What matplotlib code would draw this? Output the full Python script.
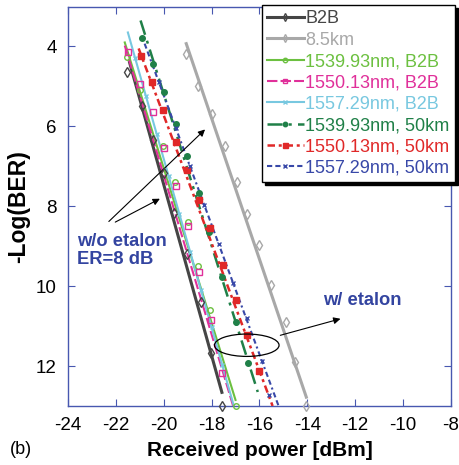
import matplotlib
matplotlib.use("Agg")
import matplotlib.pyplot as plt
from matplotlib.lines import Line2D
from matplotlib.patches import Ellipse

plt.rcParams['font.family'] = ['Liberation Sans', 'DejaVu Sans']
plt.rcParams['axes.unicode_minus'] = False

# measured points (received power [dBm], -log BER) and straight-line fits
b2b_x = [-21.54, -20.92, -20.47, -19.97, -19.56, -19.02, -18.44, -18.02, -17.57]
b2b_y = [4.64, 5.48, 6.35, 7.18, 8.18, 9.20, 10.40, 11.68, 13.0]
b2b_fit_x = [-21.43, -17.57]
b2b_fit_y = [4.40, 12.66]

km85_x = [-19.06, -18.56, -17.98, -17.44, -16.95, -16.50, -16.03, -15.50, -14.90, -14.50, -14.04]
km85_y = [4.20, 4.98, 5.70, 6.50, 7.40, 8.20, 8.97, 9.98, 10.90, 11.90, 13.0]
km85_fit_x = [-19.06, -14.04]
km85_fit_y = [3.93, 12.78]

g_b2b_x = [-21.55, -21.00, -20.05, -19.52, -18.98, -18.55, -18.05, -17.00]
g_b2b_y = [4.27, 5.10, 6.50, 7.40, 8.40, 9.50, 10.60, 13.0]
g_b2b_fit_x = [-21.63, -17.00]
g_b2b_fit_y = [3.90, 12.85]

m_b2b_x = [-21.50, -21.00, -20.47, -19.97, -19.48, -18.98, -18.52, -18.02, -17.57]
m_b2b_y = [4.15, 4.95, 5.65, 6.55, 7.50, 8.50, 9.65, 10.85, 12.18]
m_b2b_fit_x = [-21.63, -17.10]
m_b2b_fit_y = [3.98, 13.0]

c_b2b_x = [-21.20, -20.75, -20.30, -19.80, -19.35, -18.90, -18.45, -18.00, -17.55]
c_b2b_y = [4.28, 5.23, 6.18, 7.24, 8.19, 9.14, 10.09, 11.03, 11.98]
c_b2b_fit_x = [-21.50, -17.07]
c_b2b_fit_y = [3.65, 13.0]

g_50_x = [-20.93, -20.47, -19.97, -19.48, -19.02, -18.52, -18.10, -17.57, -16.99, -16.49]
g_50_y = [3.80, 4.43, 5.15, 5.93, 6.75, 7.68, 8.65, 9.78, 10.90, 11.93]
g_50_fit_x = [-20.97, -16.07]
g_50_fit_y = [3.35, 12.65]

r_50_x = [-20.97, -20.51, -20.05, -19.48, -19.02, -18.52, -18.07, -17.53, -16.99, -16.53, -16.03]
r_50_y = [4.25, 4.90, 5.60, 6.40, 7.10, 7.85, 8.55, 9.48, 10.35, 11.23, 12.13]
r_50_fit_x = [-21.05, -15.45]
r_50_fit_y = [4.05, 13.0]

b_50_x = [-20.20, -19.50, -18.90, -18.30, -17.70, -17.10, -16.53, -15.90, -15.62]
b_50_y = [4.90, 6.04, 7.00, 7.98, 8.95, 9.92, 10.80, 11.87, 12.72]
b_50_fit_x = [-20.80, -15.20]
b_50_fit_y = [3.93, 13.0]

labels = ['B2B', '8.5km', '1539.93nm, B2B', '1550.13nm, B2B', '1557.29nm, B2B',
          '1539.93nm, 50km', '1550.13nm, 50km', '1557.29nm, 50km']

series = [
    # points, fit, color, linestyle, lw, marker, filled, marker size
    (b2b_x, b2b_y, b2b_fit_x, b2b_fit_y, '#454545', '-', 2.2, 'd', False, 5),
    (km85_x, km85_y, km85_fit_x, km85_fit_y, '#a8a8a8', '-', 2.2, 'd', False, 5),
    (g_b2b_x, g_b2b_y, g_b2b_fit_x, g_b2b_fit_y, '#6cc040', '-', 1.5, 'o', False, 4),
    (m_b2b_x, m_b2b_y, m_b2b_fit_x, m_b2b_fit_y, '#e0309a', (0, (5, 1.5)), 1.5, 's', False, 4),
    (c_b2b_x, c_b2b_y, c_b2b_fit_x, c_b2b_fit_y, '#78c8e0', '-', 1.5, 'x', False, 3),
    (g_50_x, g_50_y, g_50_fit_x, g_50_fit_y, '#208048', (0, (6, 2.5, 1.2, 2.5)), 1.8, 'o', True, 4),
    (r_50_x, r_50_y, r_50_fit_x, r_50_fit_y, '#e02828', (0, (3, 1.5, 1.2, 1.5)), 1.8, 's', True, 4.5),
    (b_50_x, b_50_y, b_50_fit_x, b_50_fit_y, '#3848a8', (0, (2.5, 1.5, 2.5, 1.5, 1, 1.5)), 1.5, 'x', False, 3.5),
]

fig = plt.figure(figsize=(4.6, 4.65), dpi=100)
ax = fig.add_axes([0.148, 0.127, 0.832, 0.859])

handles = []
for (px, py, fx, fy, col, ls, lw, mk, filled, ms) in series:
    ax.plot(fx, fy, color=col, ls=ls, lw=lw, zorder=3)
    mfc = col if filled else 'none'
    ax.plot(px, py, ls='none', marker=mk, ms=ms, mfc=mfc, mec=col,
            mew=1.0, zorder=4, clip_on=False)
    handles.append(Line2D([], [], color=col, ls=ls, lw=lw, marker=mk,
                          ms=ms * 0.8, mfc=mfc, mec=col, mew=1.0))

ax.set_xlim(-24, -8)
ax.set_ylim(13, 3)
ax.set_xticks([-24, -22, -20, -18, -16, -14, -12, -10, -8])
ax.set_yticks([4, 6, 8, 10, 12])

spine_col = '#4858b0'
for s in ax.spines.values():
    s.set_color(spine_col)
    s.set_linewidth(1.0)
ax.tick_params(direction='in', top=True, right=True, length=5, color=spine_col,
               labelsize=13.5, pad=8)

ax.set_xlabel('Received power [dBm]', fontsize=15, fontweight='bold', labelpad=5)
ax.set_ylabel('-Log(BER)', fontsize=16.5, fontweight='bold', labelpad=4)
fig.text(0.022, 0.034, '(b)', fontsize=13, va='center')

# annotations
txt_col = '#3344a0'
ax.text(-23.63, 9.1, 'w/o etalon\nER=8 dB', color=txt_col, fontsize=13.2,
        fontweight='bold', va='center', ha='left', linespacing=1.1)
ax.annotate('', xy=(-18.19, 6.03), xytext=(-22.38, 8.43),
            arrowprops=dict(arrowstyle='-|>', color='black', lw=0.8, mutation_scale=10))
ax.annotate('', xy=(-20.06, 7.78), xytext=(-22.13, 8.43),
            arrowprops=dict(arrowstyle='-|>', color='black', lw=0.8, mutation_scale=10))

ax.add_patch(Ellipse((-16.53, 11.48), 2.7, 0.56, fill=False, ec='black', lw=0.9, zorder=5))
ax.annotate('', xy=(-12.5, 10.8), xytext=(-15.24, 11.25),
            arrowprops=dict(arrowstyle='-|>', color='black', lw=0.8, mutation_scale=10))
ax.text(-13.35, 10.35, 'w/ etalon', color=txt_col, fontsize=13.2,
        fontweight='bold', va='center', ha='left')

leg = ax.legend(handles, labels, loc='upper right',
                bbox_to_anchor=(455 / 460, 1 - 5 / 465), bbox_transform=fig.transFigure,
                borderaxespad=0, fontsize=13, frameon=True, fancybox=False,
                shadow={'color': 'black', 'alpha': 1}, labelspacing=0.24,
                handlelength=2.0, handletextpad=0.1, borderpad=0.3)
leg.get_frame().set_edgecolor('black')
leg.get_frame().set_linewidth(1.0)
for t, s in zip(leg.get_texts(), series):
    t.set_color(s[4])

fig.savefig('out.png', dpi=100)
